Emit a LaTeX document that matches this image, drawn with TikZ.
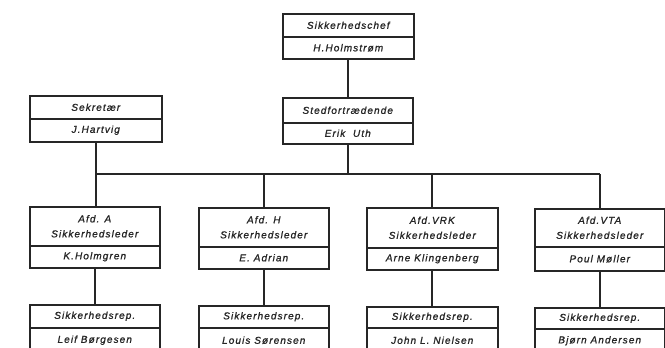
\documentclass[tikz,border=0pt]{standalone}
\usepackage{fontspec}
\newfontfamily\lett[LetterSpace=11,FakeBold=1.2]{Liberation Sans}
\definecolor{ink}{HTML}{262626}
\tikzset{
  cell/.style={draw=ink, line width=1.5pt, rectangle, inner sep=0pt, anchor=north west,
    align=center, text=ink, font={\lett\itshape\fontsize{10}{15}\selectfont}},
  link/.style={draw=ink, line width=1.6pt}
}
% #1 name, #2 left, #3 right, #4 top, #5 divider, #6 bottom, #7 upper text, #8 lower text
\newcommand\orgbox[8]{%
  \node[cell, minimum width={(#3-#2)*1pt}, minimum height={(#5-#4)*1pt}] (#1T) at (#2,#4) {#7};
  \node[cell, minimum width={(#3-#2)*1pt}, minimum height={(#6-#5)*1pt}] (#1B) at (#2,#5) {#8};
}
\begin{document}
\begin{tikzpicture}[x=1pt,y=-1pt]
\useasboundingbox (0,0) rectangle (665,348);
\clip (0,0) rectangle (665,348);
\orgbox{chef}{282}{413}{13}{36}{58}{Sikkerhedschef}{H.Holmstrøm}
\orgbox{sted}{282}{412}{97}{122}{143}{Stedfortrædende}{Erik\ \ Uth}
\orgbox{sek}{29}{161}{95}{118}{141}{Sekretær}{J.Hartvig}
\orgbox{afdA}{29}{159}{206}{245}{267}{Afd. A\\Sikkerhedsleder}{K.Holmgren}
\orgbox{afdH}{198}{328}{207}{246}{268}{Afd. H\\Sikkerhedsleder}{E. Adrian}
\orgbox{afdV}{366}{497}{207}{247}{269}{Afd.VRK\\Sikkerhedsleder}{Arne Klingenberg}
\orgbox{afdT}{534}{664}{208}{246}{270}{Afd.VTA\\Sikkerhedsleder}{Poul Møller}
\orgbox{repA}{29}{159}{304}{327}{352}{Sikkerhedsrep.}{Leif Børgesen}
\orgbox{repH}{198}{328}{305}{327}{352}{Sikkerhedsrep.}{Louis Sørensen}
\orgbox{repV}{366}{497}{306}{327}{352}{Sikkerhedsrep.}{John L. Nielsen}
\orgbox{repT}{534}{664}{307}{328}{352}{Sikkerhedsrep.}{Bjørn Andersen}
\coordinate (bus) at (0,174);
\draw[link] (chefB.south) -- (chefB.south |- stedT.north);
\draw[link] (sekB.south) -- (sekB.south |- afdAT.north);
\draw[link] (stedB.south) -- (stedB.south |- bus);
\draw[link] (sekB.south |- bus) -- (afdTT.north |- bus);
\draw[link] (afdHT.north |- bus) -- (afdHT.north);
\draw[link] (afdVT.north |- bus) -- (afdVT.north);
\draw[link] (afdTT.north |- bus) -- (afdTT.north);
\draw[link] (afdAB.south) -- (afdAB.south |- repAT.north);
\draw[link] (afdHB.south) -- (afdHB.south |- repHT.north);
\draw[link] (afdVB.south) -- (afdVB.south |- repVT.north);
\draw[link] (afdTB.south) -- (afdTB.south |- repTT.north);
\end{tikzpicture}
\end{document}
